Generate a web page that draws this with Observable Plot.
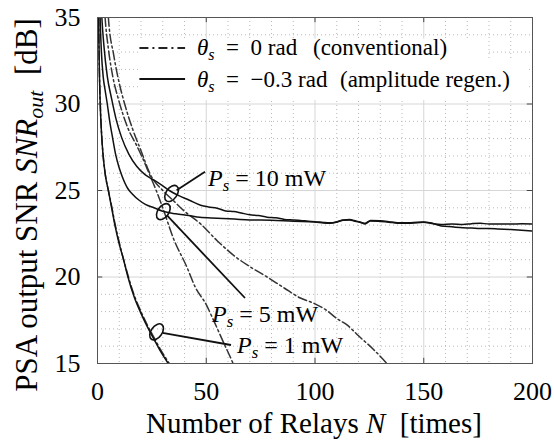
<!DOCTYPE html>
<html><head><meta charset="utf-8">
<script src="https://cdn.jsdelivr.net/npm/d3@7"></script>
<script src="https://cdn.jsdelivr.net/npm/@observablehq/plot@0.6"></script>
<style>body{margin:0;background:#fff} svg{display:block} svg text{font-family:"Liberation Serif","Times New Roman",Times,serif}</style>
</head><body><div id="chart"></div>
<script>
// ---- axes ----
const xTicks = [0, 50, 100, 150, 200];
const yTicks = [15, 20, 25, 30, 35];
const xMinor = [10,20,30,40,60,70,80,90,110,120,130,140,160,170,180,190];
const yMinor = [16,17,18,19,21,22,23,24,26,27,28,29,31,32,33,34];

// ---- series (N = number of relays, SNR in dB) ----
const n1 = [0.3,0.5,0.8,1.2,1.8,2.6,3.6,5,6.5,8,10,12,14,17,20,23,26,29,32,34];
const s1Solid = [37,35,32.3,30.2,28.4,27.0,25.9,25.0,24.0,23.0,21.9,21.0,20.0,18.8,17.9,17.1,16.4,15.7,15.1,14.7];
const s1Dash  = [37,35,32.4,30.3,28.5,27.0,25.9,25.0,24.1,23.1,22.0,21.0,20.1,18.9,18.0,17.2,16.5,15.8,15.2,14.8];

const n5Solid = [0.8,1.2,1.8,2.6,3.5,4.5,5.5,7,8.3,10,11.4,14,16,19,22,26,30,36,42,47,55,63,70,80,90,100,104,107,110,113,116,118,121,123,125.5,130,134,138,144,150,153,158,163,168,172,176,180,184,190,195,200];
const s5Solid = [37.5,35,33,31.6,30.8,30.0,29.1,28.0,27.1,26.3,25.8,25.1,24.8,24.45,24.2,24.0,23.8,23.65,23.55,23.45,23.4,23.35,23.3,23.28,23.22,23.18,23.12,23.11,23.17,23.28,23.3,23.24,23.15,23.07,23.24,23.21,23.17,23.11,23.11,23.16,23.11,23.03,23.06,23.03,23.08,23.11,23.06,23.07,23.06,23.08,23.07];

const n10Solid = [1.3,2,3,4.5,6.5,8.6,11,14.4,18,22,26,29.7,33,37.4,42,47.4,51,55,59,62.7,66,70,74,78,82,86,90,93.3,97,100,104,107,110,113,116,118,121,123,125.5,130,134,138,144,150,153,158,163,168,172,176,180,184,190,195,200];
const s10Solid = [37,35,33.3,31.6,30.3,29.1,28.1,27.1,26.4,25.9,25.6,25.3,25.0,24.7,24.45,24.15,24.05,23.98,23.82,23.78,23.7,23.6,23.55,23.46,23.42,23.33,23.3,23.27,23.22,23.2,23.15,23.13,23.19,23.3,23.32,23.26,23.17,23.1,23.27,23.25,23.2,23.14,23.14,23.18,23.13,22.95,22.9,22.85,22.83,22.8,22.8,22.78,22.74,22.7,22.65];

const n5Dash = [3,3.5,5,7,9.8,14,18,21,24,27,30,35,41,45,50,53,58,62,63];
const s5Dash = [36,35,33.2,31.6,30.2,28.6,27.6,26.8,25.9,25.0,24.0,22.2,20.6,19.4,18.4,17.6,16.2,15.1,14.8];

const n10Dash = [4.5,5,7.5,10,12.5,16,20,24.4,30,35,40,47.4,55,62.7,70,78,86,93,100,105,110,115,120,127,133,134];
const s10Dash = [36,35,32.8,31.2,30.0,28.6,27.3,25.9,25.0,24.4,23.8,23.07,22.1,21.24,20.6,20.0,19.35,18.8,18.45,18.1,17.6,17.2,16.6,15.8,15.0,14.85];

const seriesNames = ["1mW θ=0","5mW θ=0","10mW θ=0","1mW θ=-0.3","5mW θ=-0.3","10mW θ=-0.3"];

function rowsOf(name, ns, ss) { return ns.map((n, i) => ({series: name, N: n, snr: ss[i]})); }
const dashRows = [
  rowsOf(seriesNames[0], n1, s1Dash),
  rowsOf(seriesNames[1], n5Dash, s5Dash),
  rowsOf(seriesNames[2], n10Dash, s10Dash)
];
const solidRows = [
  rowsOf(seriesNames[3], n1, s1Solid),
  rowsOf(seriesNames[4], n5Solid, s5Solid),
  rowsOf(seriesNames[5], n10Solid, s10Solid)
];

const SERIF = '"Liberation Serif", "Times New Roman", Times, serif';
const DASH = "9,3,2,3";

function overlay(index, scales) {
  const X = scales.x, Y = scales.y;
  const g = d3.create("svg:g");
  // legend background (hides grid)
  g.append("rect").attr("x", X(19)).attr("y", Y(33.75)).attr("width", X(179.5) - X(19)).attr("height", Y(30.2) - Y(33.75)).attr("fill", "white");
  g.append("rect").attr("x", X(179.5)).attr("y", Y(32.6)).attr("width", X(198) - X(179.5)).attr("height", Y(30.2) - Y(32.6)).attr("fill", "white");
  return g.node();
}

function legendAndNotes(index, scales) {
  const X = scales.x, Y = scales.y;
  const g = d3.create("svg:g").attr("font-family", SERIF).attr("fill", "black")
    .attr("text-anchor", "start").style("white-space", "pre");
  // legend samples
  const lx1 = X(19.5), lx2 = X(40.5);
  g.append("line").attr("x1", lx1).attr("x2", lx2).attr("y1", 48).attr("y2", 48).attr("stroke", "#222").attr("stroke-width", 1.8).attr("stroke-dasharray", "9,4,2,4");
  g.append("line").attr("x1", lx1).attr("x2", lx2).attr("y1", 79).attr("y2", 79).attr("stroke", "#111").attr("stroke-width", 1.8);
  function mathLabel(x, y, size, sym, sub, rest) {
    const t = g.append("text").attr("x", x).attr("y", y).attr("font-size", size);
    t.append("tspan").attr("font-style", "italic").text(sym);
    t.append("tspan").attr("font-style", "italic").attr("font-size", size * 0.7).attr("dy", size * 0.22).text(sub);
    t.append("tspan").attr("dy", -size * 0.22).text(rest);
    return t;
  }
  mathLabel(197, 55, 23, "θ", "s", "\u2002=\u20020 rad");
  g.append("text").attr("x", 313).attr("y", 55).attr("font-size", 23).text("(conventional)");
  mathLabel(197, 87, 23, "θ", "s", "\u2002=\u2002−0.3 rad");
  g.append("text").attr("x", 340).attr("y", 87).attr("font-size", 23).text("(amplitude regen.)");

  // loops and leaders
  const loops = [
    {N: 34.3, s: 24.8, tx: 205, ty: 171.7, label: " = 10 mW", lx: 208, ly: 186},
    {N: 30.5, s: 23.75, tx: 245, ty: 298, label: " = 5 mW", lx: 212, ly: 322},
    {N: 27.4, s: 16.8, tx: 231, ty: 345, label: " = 1 mW", lx: 237, ly: 353}
  ];
  for (const L of loops) {
    const cx = X(L.N), cy = Y(L.s);
    g.append("ellipse").attr("cx", cx).attr("cy", cy).attr("rx", 9).attr("ry", 5.5)
      .attr("transform", `rotate(-55 ${cx} ${cy})`).attr("fill", "none").attr("stroke", "#111").attr("stroke-width", 1.6);
    const ang = Math.atan2(L.ty - cy, L.tx - cx);
    g.append("line").attr("x1", cx + 6 * Math.cos(ang)).attr("y1", cy + 6 * Math.sin(ang)).attr("x2", L.tx).attr("y2", L.ty)
      .attr("stroke", "#111").attr("stroke-width", 1.8);
    mathLabel(L.lx, L.ly, 24, "P", "s", L.label);
  }

  // axis titles
  const yl = g.append("text").attr("transform", "translate(37,205) rotate(-90)").attr("text-anchor", "middle").attr("font-size", 31);
  yl.append("tspan").text("PSA output SNR ");
  yl.append("tspan").attr("font-style", "italic").text("SNR");
  yl.append("tspan").attr("font-style", "italic").attr("font-size", 22).attr("dy", 6).text("out");
  yl.append("tspan").attr("dy", -6).text("  [dB]");
  const xl = g.append("text").attr("x", 314).attr("y", 433).attr("text-anchor", "middle").attr("font-size", 29);
  xl.append("tspan").text("Number of Relays ");
  xl.append("tspan").attr("font-style", "italic").text("N");
  xl.append("tspan").text("  [times]");
  return g.node();
}

const lineMarks = [
  ...dashRows.map(r => Plot.line(r, {x: "N", y: "snr", stroke: "#333", strokeWidth: 1.5, strokeDasharray: DASH, curve: "monotone-x", clip: true})),
  ...solidRows.map(r => Plot.line(r, {x: "N", y: "snr", stroke: "#111", strokeWidth: 1.5, curve: "monotone-x", clip: true}))
];

const chart = Plot.plot({
  width: 554, height: 446,
  marginLeft: 97, marginRight: 22, marginTop: 17, marginBottom: 83,
  style: {fontFamily: SERIF, fontSize: "26px", background: "white", color: "black"},
  x: {domain: [0, 200]},
  y: {domain: [15, 35]},
  marks: [
    Plot.ruleX(xMinor, {x: d => d, stroke: "#b8b8b8", strokeDasharray: "1,3"}),
    Plot.ruleY(yMinor, {y: d => d, stroke: "#b8b8b8", strokeDasharray: "1,3"}),
    Plot.ruleX(xTicks, {x: d => d, stroke: "#d6d6d6"}),
    Plot.ruleY(yTicks, {y: d => d, stroke: "#d6d6d6"}),
    overlay,
    ...lineMarks,
    Plot.ruleX(xTicks, {x: d => d, y1: 15, y2: 15.3, stroke: "#444"}),
    Plot.ruleX(xTicks, {x: d => d, y1: 34.7, y2: 35, stroke: "#444"}),
    Plot.ruleY(yTicks, {y: d => d, x1: 0, x2: 2.4, stroke: "#444"}),
    Plot.ruleY(yTicks, {y: d => d, x1: 197.6, x2: 200, stroke: "#444"}),
    Plot.frame({stroke: "#555"}),
    Plot.axisX(xTicks, {tickSize: 0, tickPadding: 18, label: null, fontSize: 26, fontFamily: SERIF}),
    Plot.axisY(yTicks, {tickSize: 0, tickPadding: 17, label: null, fontSize: 26, fontFamily: SERIF}),
    legendAndNotes
  ]
});
document.getElementById("chart").append(chart);
</script>
</body></html>
